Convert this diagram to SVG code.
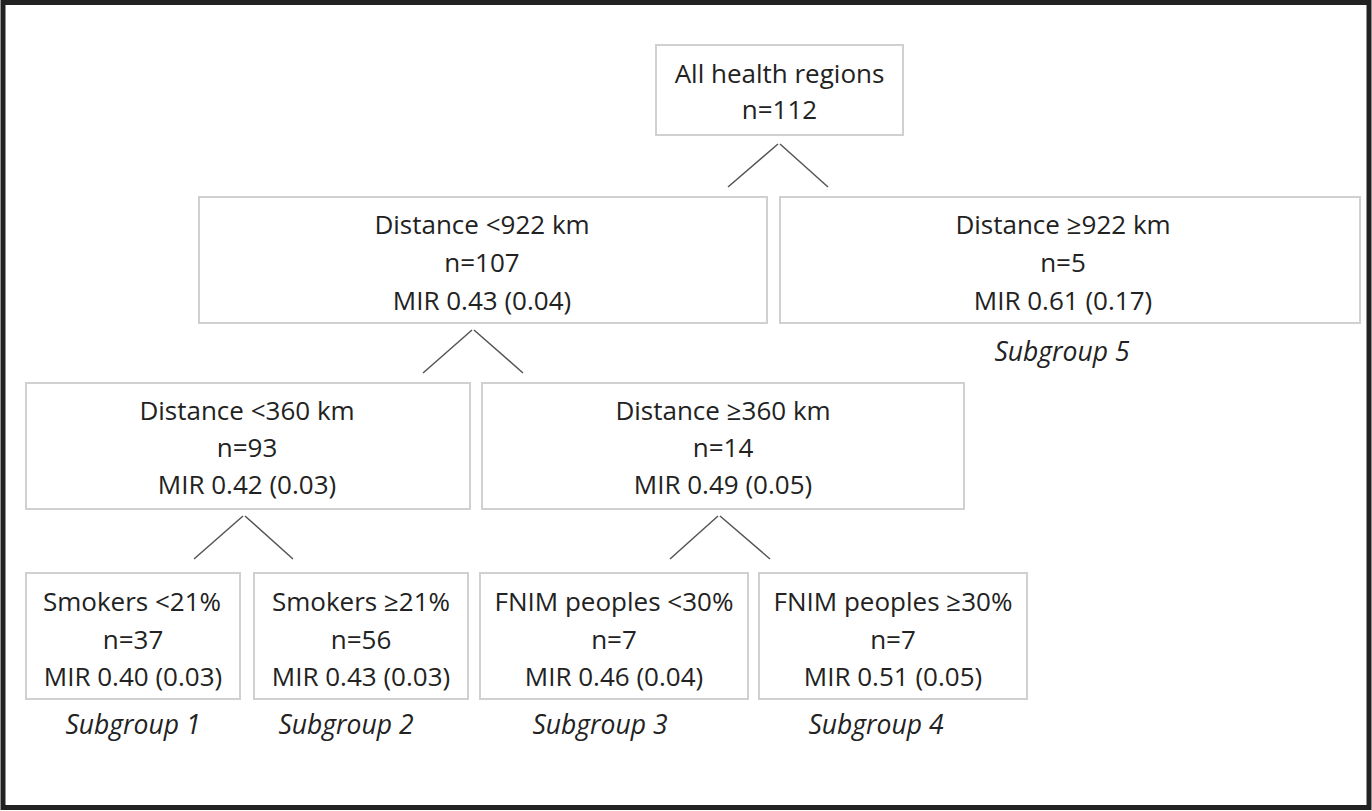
<svg xmlns="http://www.w3.org/2000/svg" width="1372" height="811" viewBox="0 0 1372 811">
<style>
.box{fill:#fff;stroke:#d0d0d0;stroke-width:2}
.t{font-family:"Open Sans","Liberation Sans",sans-serif;font-size:26px;fill:#222;text-anchor:middle}
.s{font-family:"Open Sans","Liberation Sans",sans-serif;font-size:26.5px;font-style:italic;fill:#222;text-anchor:middle}
.c{stroke:#555;stroke-width:1.5;fill:none}
</style>
<rect x="0" y="0" width="1372" height="811" fill="#fff"/>
<rect x="3" y="2.5" width="1366" height="805" fill="none" stroke="#222" stroke-width="5"/>
<g id="connectors">
<path class="c" d="M728 187 L778 144 M780 144 L828 187"/>
<path class="c" d="M423 373 L472 330 M474 330 L523 373"/>
<path class="c" d="M194 559 L243 516 M245 516 L293 559"/>
<path class="c" d="M670 559 L718 516 M720 516 L770 559"/>
</g>
<g id="n0"><rect class="box" x="656" y="45" width="247" height="90"/>
<text class="t" x="779.5" y="83">All health regions</text><text class="t" x="779.5" y="119">n=112</text></g>
<g id="n1"><rect class="box" x="199" y="197" width="568" height="126"/>
<text class="t" x="482" y="234">Distance &lt;922 km</text><text class="t" x="482" y="272">n=107</text><text class="t" x="482" y="310">MIR 0.43 (0.04)</text></g>
<g id="n2"><rect class="box" x="780" y="197" width="580" height="126"/>
<text class="t" x="1063" y="234">Distance ≥922 km</text><text class="t" x="1063" y="272">n=5</text><text class="t" x="1063" y="310">MIR 0.61 (0.17)</text>
<text class="s" x="1062" y="361">Subgroup 5</text></g>
<g id="n3"><rect class="box" x="26" y="383" width="444" height="126"/>
<text class="t" x="247" y="420">Distance &lt;360 km</text><text class="t" x="247" y="457">n=93</text><text class="t" x="247" y="494">MIR 0.42 (0.03)</text></g>
<g id="n4"><rect class="box" x="482" y="383" width="482" height="126"/>
<text class="t" x="723" y="420">Distance ≥360 km</text><text class="t" x="723" y="457">n=14</text><text class="t" x="723" y="494">MIR 0.49 (0.05)</text></g>
<g id="n5"><rect class="box" x="26" y="573" width="214" height="126"/>
<text class="t" x="132" y="611">Smokers &lt;21%</text><text class="t" x="133" y="649">n=37</text><text class="t" x="133" y="686">MIR 0.40 (0.03)</text>
<text class="s" x="133" y="734">Subgroup 1</text></g>
<g id="n6"><rect class="box" x="254" y="573" width="214" height="126"/>
<text class="t" x="361" y="611">Smokers ≥21%</text><text class="t" x="361" y="649">n=56</text><text class="t" x="361" y="686">MIR 0.43 (0.03)</text>
<text class="s" x="346" y="734">Subgroup 2</text></g>
<g id="n7"><rect class="box" x="480" y="573" width="268" height="126"/>
<text class="t" x="614" y="611">FNIM peoples &lt;30%</text><text class="t" x="614" y="649">n=7</text><text class="t" x="614" y="686">MIR 0.46 (0.04)</text>
<text class="s" x="600" y="734">Subgroup 3</text></g>
<g id="n8"><rect class="box" x="759" y="573" width="268" height="126"/>
<text class="t" x="893" y="611">FNIM peoples ≥30%</text><text class="t" x="893" y="649">n=7</text><text class="t" x="893" y="686">MIR 0.51 (0.05)</text>
<text class="s" x="876" y="734">Subgroup 4</text></g>
</svg>
